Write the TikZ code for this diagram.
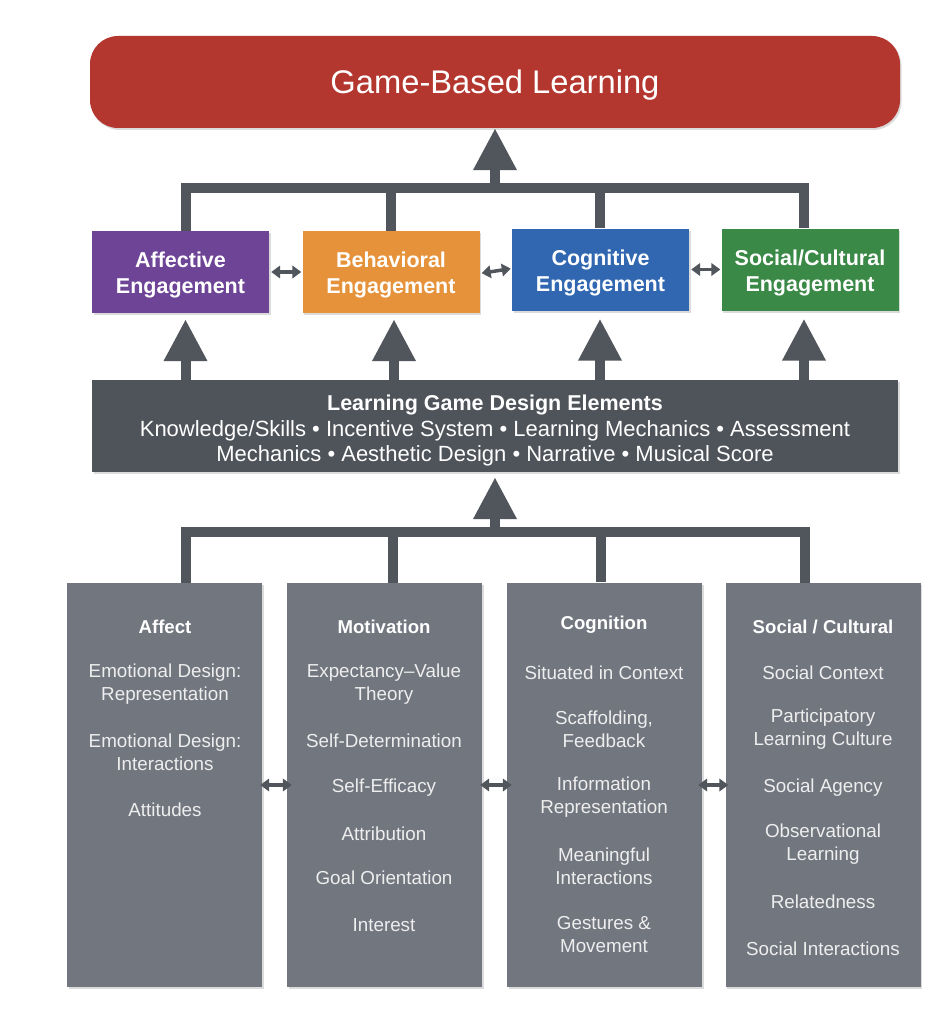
\documentclass[tikz,border=0pt]{standalone}
\usepackage{fontspec}
\setmainfont{Liberation Sans}
\usetikzlibrary{arrows.meta,shadows}
\definecolor{gblred}{HTML}{B4372F}
\definecolor{affpurple}{HTML}{6E4496}
\definecolor{behorange}{HTML}{E6923A}
\definecolor{cogblue}{HTML}{3067B0}
\definecolor{socgreen}{HTML}{3B8946}
\definecolor{darkbox}{HTML}{4F535A}
\definecolor{conncol}{HTML}{51555C}
\definecolor{colgray}{HTML}{72767F}
\definecolor{itemtext}{HTML}{EEEEEE}
\begin{document}
\begin{tikzpicture}[x=1pt,y=-1pt,
 shadowed/.style={drop shadow={shadow xshift=1.5pt,shadow yshift=-2pt,opacity=0.28}},
 engbox/.style={rectangle, minimum width=177pt, minimum height=82pt, inner sep=0pt, shadowed},
 engtext/.style={text=white, font=\fontsize{21.5}{26}\selectfont\bfseries, align=center, inner sep=0pt},
 colbox/.style={rectangle, fill=colgray, minimum width=195pt, minimum height=404pt, inner sep=0pt, shadowed},
 coltitle/.style={text=white, font=\fontsize{18.6}{22}\selectfont\bfseries, inner sep=0pt},
 item/.style={text=itemtext, font=\fontsize{18.8}{23}\selectfont, align=center, inner sep=0pt},
 conn/.style={draw=conncol, line width=10pt},
 bigarrow/.style={draw=conncol, line width=10pt, -{Triangle[width=41pt,length=42pt]}},
 dblarrow/.style={draw=conncol, line width=3.5pt, {Triangle[width=12.5pt,length=9pt]}-{Triangle[width=12.5pt,length=9pt]}},
]
\useasboundingbox[fill=white] (0,0) rectangle (942,1014);

% Top banner
\node[rectangle, rounded corners=28pt, fill=gblred, minimum width=810pt, minimum height=92pt,
      inner sep=0pt, shadowed] (gbl) at (495,82) {};
\node[text=white, font=\fontsize{32.7}{38}\selectfont, inner sep=0pt] (gblt) at (495,85.5) {Game-Based Learning};

% Engagement boxes
\node[engbox, fill=affpurple] (aff) at (180.5,272) {};
\node[engbox, fill=behorange] (beh) at (391,272) {};
\node[engbox, fill=cogblue] (cog) at (600.5,269.5) {};
\node[engbox, fill=socgreen] (soc) at (810,269.5) {};
\node[engtext] (afft) at (180.5,275) {Affective\\Engagement};
\node[engtext] (beht) at (391,275) {Behavioral\\Engagement};
\node[engtext] (cogt) at (600.5,272.5) {Cognitive\\Engagement};
\node[engtext] (soct) at (810,272.5) {Social/Cultural\\Engagement};

% Design elements box
\node[rectangle, fill=darkbox, minimum width=806pt, minimum height=92pt, inner sep=0pt, shadowed] (lgd) at (495,426) {};
\node[text=white, align=center, font=\fontsize{22}{25.5}\selectfont, inner sep=0pt] (lgdt) at (495,430.5)
  {{\fontsize{21.5}{25.5}\selectfont\bfseries Learning Game Design Elements}\\
   Knowledge/Skills • Incentive System • Learning Mechanics • Assessment\\
   Mechanics • Aesthetic Design • Narrative • Musical Score};

% Bottom columns
\node[colbox] (affc) at (164.5,785) {};
\node[colbox] (motc) at (384.5,785) {};
\node[colbox] (cogc) at (604.5,784.5) {};
\node[colbox] (socc) at (823,785) {};

% Affect
\node[coltitle] (t1) at (165,626.5) {Affect};
\node[item] (a1) at (165,684) {Emotional Design:\\Representation};
\node[item] (a2) at (165,752.5) {Emotional Design:\\Interactions};
\node[item] (a3) at (165,809.5) {Attitudes};
% Motivation
\node[coltitle] (t2) at (384,626.5) {Motivation};
\node[item] (m1) at (384,684) {Expectancy–Value\\Theory};
\node[item] (m2) at (384,740.5) {Self-Determination};
\node[item] (m3) at (384,787.5) {Self-Efficacy};
\node[item] (m4) at (384,833.5) {Attribution};
\node[item] (m5) at (384,877.5) {Goal Orientation};
\node[item] (m6) at (384,925.5) {Interest};
% Cognition
\node[coltitle] (t3) at (604,624.5) {Cognition};
\node[item] (c1) at (604,672.5) {Situated in Context};
\node[item] (c2) at (604,729) {Scaffolding,\\Feedback};
\node[item] (c3) at (604,797) {Information\\Representation};
\node[item] (c4) at (604,866.5) {Meaningful\\Interactions};
\node[item] (c5) at (604,935) {Gestures \&\\Movement};
% Social / Cultural
\node[coltitle] (t4) at (823,626.5) {Social / Cultural};
\node[item] (s1) at (823,672.5) {Social Context};
\node[item] (s2) at (823,729) {Participatory\\Learning Culture};
\node[item] (s3) at (823,787.5) {Social Agency};
\node[item] (s4) at (823,844.5) {Observational\\Learning};
\node[item] (s5) at (823,901.5) {Relatedness};
\node[item] (s6) at (823,948.5) {Social Interactions};

% Upper bar: engagement -> game-based learning
\coordinate (ub1) at (185.5,188);
\coordinate (ub2) at (391,188);
\coordinate (ub3) at (599.5,188);
\coordinate (ub4) at (804,188);
\coordinate (ubm) at (495,188);
\draw[conn] (ub1 |- aff.north) -- (ub1) -- (ub4) -- (ub4 |- soc.north);
\draw[conn] (ub2) -- (ub2 |- beh.north);
\draw[conn] (ub3) -- (ub3 |- cog.north);
\draw[bigarrow] ([yshift=-5pt]ubm) -- (gbl.south);

% Middle arrows: design elements -> engagement
\coordinate (mx1) at (185.5,0);
\coordinate (mx2) at (394,0);
\coordinate (mx3) at (600,0);
\coordinate (mx4) at (804,0);
\draw[bigarrow, shorten >=6pt] (mx1 |- lgd.north) -- (mx1 |- aff.south);
\draw[bigarrow, shorten >=6pt] (mx2 |- lgd.north) -- (mx2 |- beh.south);
\draw[bigarrow, shorten >=8pt] (mx3 |- lgd.north) -- (mx3 |- cog.south);
\draw[bigarrow, shorten >=8pt] (mx4 |- lgd.north) -- (mx4 |- soc.south);

% Lower bar: columns -> design elements
\coordinate (lb1) at (185.5,532);
\coordinate (lb2) at (393,532);
\coordinate (lb3) at (600.5,532);
\coordinate (lb4) at (805,532);
\coordinate (lbm) at (495,532);
\draw[conn] (lb1 |- affc.north) -- (lb1) -- (lb4) -- (lb4 |- socc.north);
\draw[conn] (lb2) -- (lb2 |- motc.north);
\draw[conn] (lb3) -- (lb3 |- cogc.north);
\draw[bigarrow, shorten >=5pt] ([yshift=-5pt]lbm) -- (lgd.south);

% Double arrows between engagement boxes
\draw[dblarrow, shorten <=2pt, shorten >=1pt] (aff.east) -- (beh.west);
\draw[dblarrow, shorten <=2pt, shorten >=1pt] ([yshift=-1.5pt]beh.east) -- ([yshift=1pt]cog.west);
\draw[dblarrow, shorten <=2pt, shorten >=1pt] (cog.east) -- (soc.west);

% Double arrows between columns
\coordinate (dy) at (0,785);
\draw[dblarrow, shorten <=-2pt, shorten >=-5pt] (affc.east |- dy) -- (motc.west |- dy);
\draw[dblarrow, shorten <=-2pt, shorten >=-5pt] (motc.east |- dy) -- (cogc.west |- dy);
\draw[dblarrow, shorten <=-4pt, shorten >=-3pt] (cogc.east |- dy) -- (socc.west |- dy);
\end{tikzpicture}
\end{document}
